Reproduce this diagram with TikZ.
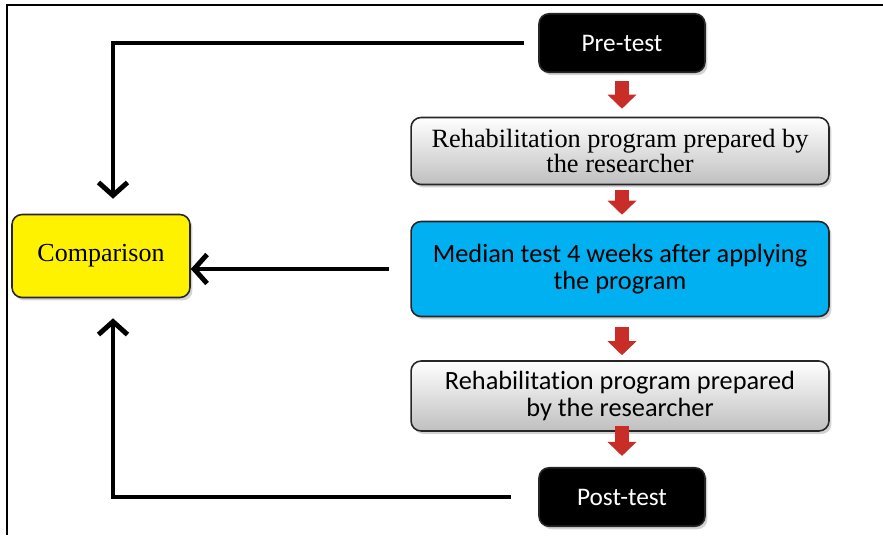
\documentclass[tikz,border=0pt]{standalone}
\usepackage{fontspec}
\setmainfont{Liberation Serif}
\newfontfamily\carlito{Carlito}[Ligatures=NoCommon]
\usetikzlibrary{arrows.meta,shadows}
\definecolor{medianblue}{RGB}{0,176,240}
\definecolor{blockred}{RGB}{200,45,40}

\begin{document}
\begin{tikzpicture}[x=0.02cm,y=-0.02cm,
    box/.style ={rectangle, rounded corners=0.2cm, draw=black!85, line width=0.9pt, align=center,
      drop shadow={opacity=0.35,shadow xshift=0.05cm,shadow yshift=-0.06cm}},
    testbox/.style ={box, fill=black, text=white, font=\carlito\fontsize{14.4}{16}\selectfont,
      minimum width=3.32cm, minimum height=1.17cm},
    programbox/.style ={box, top color=white, bottom color=black!25, minimum width=8.36cm},
    blockarrow/.style ={line width=8pt, draw=blockred, -{Triangle[length=0.28cm,width=0.56cm]}},
    feedback/.style ={line width=2.8pt, -{Straight Barb[length=0.26cm,width=0.58cm]}}]
   \useasboundingbox (0,0) rectangle (883,535);
   \draw[line width=1.6pt] (7,535) |- (883,5);

   \node[testbox] (pre) at (622,43) {Pre-test};
   \node[programbox,minimum height=1.34cm,font=\fontsize{15}{14.2}\selectfont] (reh1) at (620,151)
     {Rehabilitation program prepared by\\the researcher};
   \node[box,fill=medianblue,minimum width=8.36cm,minimum height=1.9cm,font=\carlito\fontsize{15}{15.3}\selectfont] (median) at (620,269)
     {Median test 4 weeks after applying\\the program};
   \node[programbox,minimum height=1.4cm,font=\carlito\fontsize{15}{15.3}\selectfont] (reh2) at (620,396)
     {Rehabilitation program prepared\\by the researcher};
   \node[testbox] (post) at (622,497) {Post-test};
   \node[box,fill=yellow,minimum width=3.56cm,minimum height=1.66cm,font=\fontsize{14.8}{16}\selectfont] (comp) at (101,256) {Comparison};

   \draw[blockarrow,shorten <=0.16cm,shorten >=0.16cm] (pre.south) -- (pre.south |- reh1.north);
   \draw[blockarrow,shorten <=0.1cm,shorten >=0.12cm] (reh1.south -| pre.south) -- (median.north -| pre.south);
   \draw[blockarrow,shorten <=0.2cm,shorten >=0.1cm] (median.south -| pre.south) -- (reh2.north -| pre.south);
   \draw[blockarrow,shorten <=-0.12cm,shorten >=0.22cm] (reh2.south -| post.north) -- (post.north);

   \draw[feedback,shorten <=0.28cm,shorten >=0.3cm] (pre.west) -| ([xshift=0.24cm]comp.north);
   \draw[feedback,shorten <=0.42cm] (median.west) -- (median.west -| comp.east);
   \draw[feedback,shorten <=0.54cm,shorten >=0.4cm] (post.west) -| ([xshift=0.24cm]comp.south);
 \end{tikzpicture}
\end{document}
